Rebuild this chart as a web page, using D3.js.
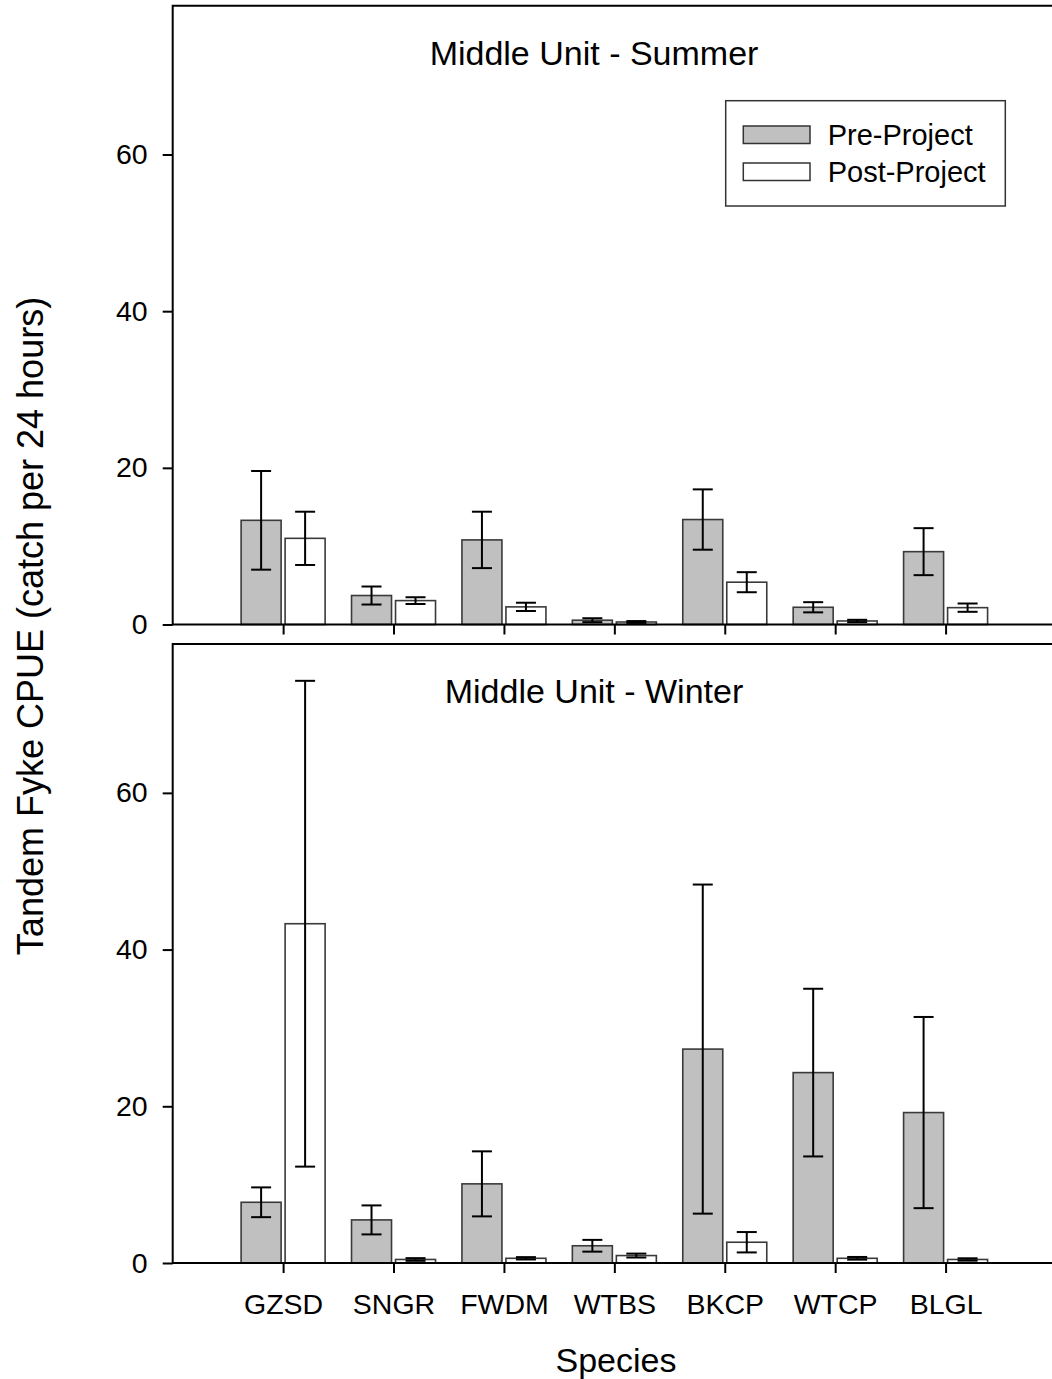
<!DOCTYPE html>
<html>
<head>
<meta charset="utf-8">
<script src="https://cdn.jsdelivr.net/npm/d3@7"></script>
<style>
  html, body { margin: 0; padding: 0; background: #fff; }
  svg { display: block; font-family: "Liberation Sans", Arial, sans-serif; }
</style>
</head>
<body>
<svg id="chart" width="1052" height="1379"></svg>
<script>
// Species codes along the x axis
const species = ["GZSD", "SNGR", "FWDM", "WTBS", "BKCP", "WTCP", "BLGL"];

// Summer CPUE (mean and standard error)
const summerPre    = [13.3, 3.7, 10.8, 0.55, 13.4, 2.2, 9.3];
const summerPreSE  = [6.3, 1.15, 3.6, 0.25, 3.85, 0.65, 3.0];
const summerPost   = [11.0, 3.05, 2.25, 0.32, 5.4, 0.45, 2.15];
const summerPostSE = [3.4, 0.43, 0.53, 0.12, 1.28, 0.15, 0.53];

// Winter CPUE (mean and standard error)
const winterPre    = [7.75, 5.5, 10.1, 2.2, 27.3, 24.3, 19.2];
const winterPreSE  = [1.9, 1.85, 4.15, 0.75, 21.0, 10.7, 12.2];
const winterPost   = [43.3, 0.45, 0.6, 0.95, 2.65, 0.6, 0.45];
const winterPostSE = [31.0, 0.17, 0.15, 0.25, 1.3, 0.17, 0.15];

const yTicks = [0, 20, 40, 60];
const seriesNames = ["Pre-Project", "Post-Project"];
const seriesFill = ["#c0c0c0", "#ffffff"];

const panels = [
  { title: "Middle Unit - Summer", top: 5.7, bottom: 624.5,
    series: [[summerPre, summerPreSE], [summerPost, summerPostSE]], legend: true },
  { title: "Middle Unit - Winter", top: 644, bottom: 1263,
    series: [[winterPre, winterPreSE], [winterPost, winterPostSE]], legend: false }
];

const svg = d3.select("#chart");
const left = 172.7;
const right = 1056;

// Category positions: species i sits at i+1 on a 0..8 axis
const x = d3.scaleLinear().domain([0, species.length + 1]).range([left, right]);
const barW = 40, gap = 2;

panels.forEach(p => {
  const y = d3.scaleLinear().domain([0, 79]).range([p.bottom, p.top]);
  const g = svg.append("g");

  // bars
  p.series.forEach(([vals, se], s) => {
    const bx = i => s === 0 ? x(i + 1) - gap - barW : x(i + 1) + gap;
    g.selectAll(null).data(vals).enter().append("rect")
      .attr("x", (d, i) => bx(i))
      .attr("y", d => y(d))
      .attr("width", barW)
      .attr("height", d => y(0) - y(d))
      .attr("fill", seriesFill[s])
      .attr("stroke", "#3a3a3a")
      .attr("stroke-width", 1.6);

    // error bars
    const eb = g.selectAll(null).data(vals).enter().append("g")
      .attr("stroke", "#000").attr("stroke-width", 2);
    const cx = i => bx(i) + barW / 2;
    eb.append("line")
      .attr("x1", (d, i) => cx(i)).attr("x2", (d, i) => cx(i))
      .attr("y1", (d, i) => y(d + se[i])).attr("y2", (d, i) => y(Math.max(0, d - se[i])));
    eb.append("line")
      .attr("x1", (d, i) => cx(i) - 10).attr("x2", (d, i) => cx(i) + 10)
      .attr("y1", (d, i) => y(d + se[i])).attr("y2", (d, i) => y(d + se[i]));
    eb.append("line")
      .attr("x1", (d, i) => cx(i) - 10).attr("x2", (d, i) => cx(i) + 10)
      .attr("y1", (d, i) => y(Math.max(0, d - se[i]))).attr("y2", (d, i) => y(Math.max(0, d - se[i])));
  });

  // frame: top and left edges, plus baseline
  g.append("path")
    .attr("d", `M${right},${p.top}H${left}V${p.bottom}H${right}`)
    .attr("fill", "none").attr("stroke", "#000").attr("stroke-width", 2);

  // y axis
  const ya = g.append("g").attr("transform", `translate(${left},0)`)
    .call(d3.axisLeft(y).tickValues(yTicks).tickSize(10).tickPadding(15).tickFormat(d3.format("d")));
  ya.select(".domain").remove();
  ya.selectAll(".tick line").attr("stroke", "#000").attr("stroke-width", 2);
  ya.selectAll(".tick text").attr("font-size", 28.5).attr("fill", "#000")
    .attr("font-family", "Liberation Sans, Arial, sans-serif");

  // x axis ticks
  const xa = g.append("g").attr("transform", `translate(0,${p.bottom})`)
    .call(d3.axisBottom(x).tickValues(d3.range(1, species.length + 1)).tickSize(10)
      .tickFormat((d, i) => p.legend ? "" : species[i]).tickPadding(21));
  xa.select(".domain").remove();
  xa.selectAll(".tick line").attr("stroke", "#000").attr("stroke-width", 2);
  xa.selectAll(".tick text").attr("font-size", 28.5).attr("fill", "#000")
    .attr("font-family", "Liberation Sans, Arial, sans-serif");

  // panel title
  g.append("text").attr("x", 594).attr("y", p.top + 59)
    .attr("text-anchor", "middle").attr("font-size", 34).text(p.title);

  if (p.legend) {
    const lg = g.append("g");
    lg.append("rect").attr("x", 725.7).attr("y", 100.7).attr("width", 279.6).attr("height", 105.3)
      .attr("fill", "#fff").attr("stroke", "#333").attr("stroke-width", 1.5);
    seriesNames.forEach((name, s) => {
      const yy = 126 + s * 37;
      lg.append("rect").attr("x", 743.3).attr("y", yy).attr("width", 66.7).attr("height", 17.5)
        .attr("fill", seriesFill[s]).attr("stroke", "#333").attr("stroke-width", 1.5);
      lg.append("text").attr("x", 827.7).attr("y", yy + 19).attr("font-size", 29).text(name);
    });
  }
});

// axis titles
svg.append("text").attr("transform", "translate(43,626) rotate(-90)")
  .attr("text-anchor", "middle").attr("font-size", 36).text("Tandem Fyke CPUE (catch per 24 hours)");
svg.append("text").attr("x", 616).attr("y", 1372)
  .attr("text-anchor", "middle").attr("font-size", 34).text("Species");
</script>
</body>
</html>
